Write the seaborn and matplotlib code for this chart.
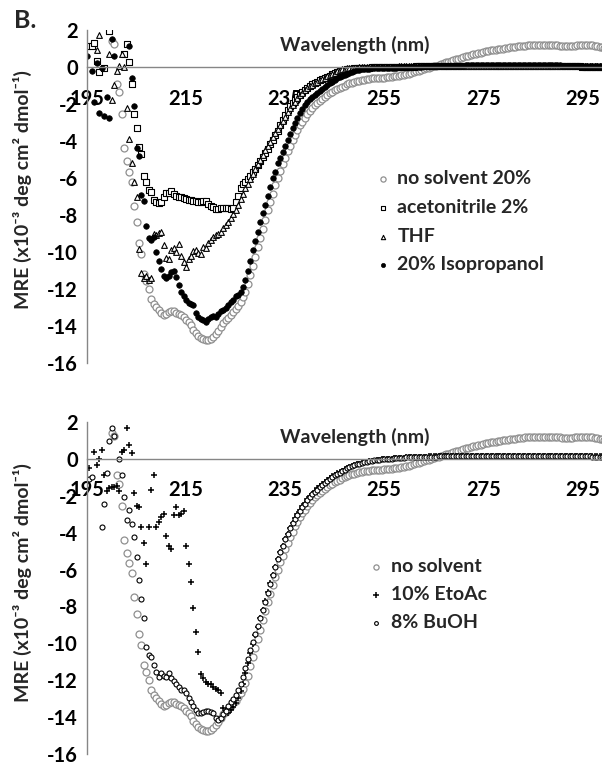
import numpy as np
import matplotlib
matplotlib.use("Agg")
import matplotlib.pyplot as plt
import seaborn as sns

n = np.nan
# wavelength grid (nm), 0.5 nm steps
wavelength = np.arange(1950, 3001, 5) / 10.0

no_solvent = [
    n, n, n, n, n, n, n, n, n, n,
    1.4, 1.25, -0.9, -1.35, -2.55, -4.4, -5.1, -5.65, -6.2, -7.5,
    -8.4, -9.5, -10.1, -11.2, -11.55, -12.0, -12.55, -12.8, -12.95, -13.15,
    -13.3, -13.4, -13.35, -13.25, -13.2, -13.2, -13.28, -13.35, -13.4, -13.5,
    -13.65, -13.8, -13.95, -14.2, -14.4, -14.55, -14.65, -14.72, -14.75, -14.75,
    -14.7, -14.6, -14.45, -14.25, -14.05, -13.85, -13.7, -13.55, -13.4, -13.25,
    -13.1, -12.9, -12.7, -12.45, -12.15, -11.75, -11.25, -10.75, -10.25, -9.75,
    -9.25, -8.75, -8.25, -7.75, -7.3, -6.85, -6.4, -6.0, -5.6, -5.25,
    -4.9, -4.55, -4.25, -3.95, -3.65, -3.4, -3.15, -2.95, -2.75, -2.55,
    -2.38, -2.22, -2.08, -1.95, -1.83, -1.72, -1.62, -1.52, -1.43, -1.35,
    -1.27, -1.2, -1.13, -1.06, -1.0, -0.94, -0.89, -0.84, -0.8, -0.76,
    -0.73, -0.7, -0.68, -0.66, -0.64, -0.62, -0.61, -0.6, -0.59, -0.58,
    -0.57, -0.56, -0.55, -0.53, -0.51, -0.49, -0.47, -0.45, -0.42, -0.39,
    -0.36, -0.32, -0.28, -0.24, -0.2, -0.16, -0.12, -0.08, -0.04, 0.0,
    0.04, 0.08, 0.12, 0.17, 0.21, 0.25, 0.29, 0.33, 0.37, 0.41,
    0.45, 0.49, 0.53, 0.57, 0.61, 0.64, 0.68, 0.71, 0.75, 0.78,
    0.81, 0.84, 0.87, 0.9, 0.92, 0.94, 0.96, 0.98, 1.0, 1.02,
    1.04, 1.06, 1.08, 1.1, 1.12, 1.13, 1.15, 1.16, 1.17, 1.18,
    1.19, 1.2, 1.2, 1.21, 1.21, 1.2, 1.2, 1.19, 1.19, 1.18,
    1.17, 1.16, 1.15, 1.14, 1.14, 1.14, 1.15, 1.16, 1.17, 1.18,
    1.19, 1.2, 1.2, 1.19, 1.17, 1.15, 1.12, 1.09, 1.06, 1.03,
    1.0,
]

acetonitrile = [
    1.13, n, 1.13, 1.31, 0.32, -0.25, n, -0.04, n, 1.97,
    n, n, n, n, n, 0.68, 1.24, 0.25, -0.9, -2.55,
    -3.3, -4.33, -4.71, -5.87, -6.19, -6.65, -6.74, -7.18, -7.28, -7.33,
    -7.28, -7.0, -6.8, -6.83, -6.7, -6.86, -6.95, -7.0, -7.05, -7.1,
    -7.14, -7.17, -7.19, -7.22, -7.24, -7.28, -7.28, -7.25, -7.23, -7.38,
    -7.5, -7.58, -7.7, -7.65, -7.6, -7.62, -7.64, -7.6, -7.7, -7.6,
    -7.3, -6.95, -6.55, -6.3, -6.2, -6.05, -5.9, -5.7, -5.5, -5.3,
    -5.07, -4.88, -4.65, -4.42, -4.18, -3.95, -3.7, -3.45, -3.15, -2.86,
    -2.6, -2.35, -2.12, -1.92, -1.76, -1.62, -1.49, -1.36, -1.24, -1.12,
    -1.02, -0.94, -0.86, -0.79, -0.72, -0.65, -0.58, -0.52, -0.46, -0.4,
    -0.34, -0.29, -0.24, -0.2, -0.16, -0.13, -0.11, -0.09, -0.07, -0.06,
    -0.05, -0.04, -0.04, -0.03, -0.03, -0.02, -0.02, -0.02, -0.01, -0.01,
    -0.01, 0.0, 0.0, 0.0, 0.01, 0.01, 0.01, 0.01, 0.02, 0.02,
    0.02, 0.02, 0.02, 0.03, 0.03, 0.03, 0.03, 0.03, 0.03, 0.03,
    0.03, 0.04, 0.04, 0.04, 0.04, 0.04, 0.04, 0.04, 0.04, 0.04,
    0.04, 0.05, 0.05, 0.05, 0.05, 0.05, 0.05, 0.05, 0.05, 0.05,
    0.05, 0.05, 0.05, 0.05, 0.05, 0.05, 0.05, 0.05, 0.05, 0.05,
    0.05, 0.05, 0.04, 0.04, 0.04, 0.04, 0.04, 0.04, 0.04, 0.04,
    0.04, 0.04, 0.04, 0.04, 0.04, 0.04, 0.03, 0.03, 0.03, 0.03,
    0.03, 0.03, 0.03, 0.03, 0.03, 0.03, 0.03, 0.03, 0.03, 0.03,
    0.02, 0.02, 0.02, 0.02, 0.02, 0.02, 0.02, 0.02, 0.02, 0.02,
    0.02,
]

thf = [
    n, n, n, n, 0.94, 1.75, n, n, n, 0.7,
    -1.76, -0.97, -0.22, 0.05, 0.7, 0.0, -2.2, -3.88, -5.17, -6.24,
    -7.03, -9.86, -11.15, -11.42, -11.3, -11.5, -11.4, -9.0, -9.1, -8.95,
    -8.9, -9.62, -10.3, -10.4, -9.9, -9.8, -10.0, -9.57, -10.2, -10.56,
    -10.8, -10.4, -10.2, -9.95, -9.9, -10.07, -10.1, -9.71, -9.8, -9.5,
    -9.35, -9.2, -9.1, -9.05, -8.9, -8.7, -8.55, -8.36, -8.15, -7.95,
    -7.75, -7.45, -7.15, -6.85, -6.55, -6.3, -6.05, -5.8, -5.5, -5.25,
    -5.0, -4.75, -4.5, -4.28, -4.05, -3.8, -3.58, -3.35, -3.12, -2.9,
    -2.68, -2.45, -2.23, -2.05, -1.87, -1.7, -1.53, -1.4, -1.27, -1.15,
    -1.05, -0.96, -0.88, -0.8, -0.72, -0.65, -0.58, -0.5, -0.43, -0.37,
    -0.31, -0.24, -0.17, -0.13, -0.1, -0.08, -0.06, -0.05, -0.04, -0.03,
    -0.02, -0.02, -0.01, -0.01, 0.0, 0.0, 0.0, 0.01, 0.01, 0.01,
    0.01, 0.02, 0.02, 0.02, 0.02, 0.02, 0.03, 0.03, 0.03, 0.03,
    0.03, 0.03, 0.04, 0.04, 0.04, 0.04, 0.04, 0.04, 0.05, 0.05,
    0.05, 0.05, 0.05, 0.05, 0.06, 0.06, 0.06, 0.06, 0.06, 0.06,
    0.06, 0.07, 0.07, 0.07, 0.07, 0.07, 0.07, 0.07, 0.07, 0.07,
    0.07, 0.07, 0.07, 0.07, 0.07, 0.07, 0.07, 0.07, 0.07, 0.07,
    0.07, 0.07, 0.06, 0.06, 0.06, 0.06, 0.06, 0.06, 0.06, 0.06,
    0.06, 0.06, 0.06, 0.06, 0.05, 0.05, 0.05, 0.05, 0.05, 0.05,
    0.05, 0.05, 0.05, 0.05, 0.05, 0.04, 0.04, 0.04, 0.04, 0.04,
    0.04, 0.04, 0.04, 0.04, 0.04, 0.04, 0.04, 0.03, 0.03, 0.03,
    0.03,
]

isopropanol = [
    0.6, n, -0.22, -1.88, 0.23, -2.5, -0.04, -2.63, -1.6, -2.74,
    1.5, 0.6, n, n, n, n, n, 1.15, -0.58, -2.09,
    -4.4, -4.8, -6.9, -7.25, -8.6, -9.26, -9.35, -9.2, -10.0, -10.5,
    -10.9, -11.3, -11.4, -11.3, -11.1, -11.0, -11.37, -11.8, -12.15, -12.4,
    -12.6, -12.77, -12.8, -12.86, -13.3, -13.5, -13.6, -13.68, -13.77, -13.6,
    -13.5, -13.46, -13.5, -13.35, -13.2, -13.14, -13.05, -12.85, -12.7, -12.6,
    -12.4, -12.3, -12.15, -11.9, -11.5, -11.05, -10.5, -9.9, -9.4, -8.9,
    -8.4, -7.9, -7.46, -6.95, -6.47, -6.0, -5.65, -5.2, -4.9, -4.6,
    -4.28, -3.95, -3.62, -3.32, -3.02, -2.75, -2.5, -2.27, -2.07, -1.9,
    -1.75, -1.62, -1.5, -1.38, -1.28, -1.18, -1.08, -0.98, -0.88, -0.79,
    -0.7, -0.62, -0.55, -0.48, -0.42, -0.36, -0.3, -0.25, -0.21, -0.18,
    -0.15, -0.13, -0.11, -0.1, -0.09, -0.08, -0.07, -0.07, -0.06, -0.06,
    -0.05, -0.05, -0.04, -0.04, -0.03, -0.03, -0.02, -0.02, -0.01, -0.01,
    0.0, 0.0, 0.01, 0.01, 0.02, 0.02, 0.03, 0.03, 0.03, 0.04,
    0.04, 0.04, 0.05, 0.05, 0.05, 0.06, 0.06, 0.06, 0.07, 0.07,
    0.07, 0.08, 0.08, 0.09, 0.09, 0.1, 0.1, 0.1, 0.11, 0.11,
    0.11, 0.12, 0.12, 0.12, 0.12, 0.13, 0.13, 0.13, 0.13, 0.12,
    0.12, 0.12, 0.12, 0.12, 0.12, 0.11, 0.11, 0.11, 0.11, 0.11,
    0.1, 0.1, 0.1, 0.1, 0.1, 0.1, 0.09, 0.09, 0.09, 0.09,
    0.09, 0.09, 0.08, 0.08, 0.08, 0.08, 0.08, 0.07, 0.07, 0.07,
    0.07, 0.07, 0.06, 0.06, 0.06, 0.06, 0.05, 0.05, 0.05, 0.05,
    0.05,
]

etoac = [
    -1.1, -0.47, n, 0.4, -0.35, 0.0, 0.49, -0.85, -1.75, -1.58,
    -1.55, -1.5, -1.46, -1.73, 0.36, 0.47, 1.67, 0.78, 0.34, -1.86,
    -2.54, -2.62, -3.71, -4.54, -5.72, -3.71, -1.67, -0.85, -3.68, -3.44,
    -3.17, -2.99, -4.2, -4.74, -4.88, -3.03, -2.63, -3.03, -2.99, -2.8,
    -4.7, -5.7, -6.68, -8.1, -9.38, -10.45, -11.65, -11.9, -12.1, -12.2,
    -12.2, -12.36, -12.45, -12.54, -12.68, -13.5, -13.66, -13.77, -13.62, -13.44,
    -13.23, -12.99, -12.6, -12.2, -11.6, -11.05, -10.5, -10.05, -9.55, -9.1,
    -8.65, -8.2, -7.7, -7.2, -6.75, -6.3, -5.85, -5.45, -5.05, -4.7,
    -4.35, -4.05, -3.75, -3.48, -3.22, -2.98, -2.77, -2.57, -2.38, -2.2,
    -2.03, -1.88, -1.74, -1.6, -1.48, -1.36, -1.25, -1.14, -1.04, -0.95,
    -0.86, -0.78, -0.7, -0.63, -0.56, -0.5, -0.44, -0.39, -0.34, -0.3,
    -0.26, -0.22, -0.19, -0.16, -0.13, -0.11, -0.09, -0.07, -0.05, -0.03,
    -0.02, 0.0, 0.01, 0.02, 0.03, 0.04, 0.05, 0.06, 0.07, 0.08,
    0.09, 0.1, 0.1, 0.11, 0.11, 0.12, 0.12, 0.12, 0.13, 0.13,
    0.13, 0.13, 0.14, 0.14, 0.14, 0.15, 0.15, 0.15, 0.15, 0.16,
    0.16, 0.16, 0.16, 0.16, 0.17, 0.17, 0.17, 0.17, 0.17, 0.17,
    0.17, 0.18, 0.18, 0.18, 0.18, 0.18, 0.18, 0.18, 0.18, 0.18,
    0.18, 0.18, 0.18, 0.18, 0.18, 0.17, 0.17, 0.17, 0.17, 0.17,
    0.17, 0.17, 0.17, 0.16, 0.16, 0.16, 0.16, 0.16, 0.16, 0.16,
    0.16, 0.16, 0.15, 0.15, 0.15, 0.15, 0.15, 0.15, 0.15, 0.15,
    0.15, 0.15, 0.15, 0.14, 0.14, 0.14, 0.14, 0.14, 0.14, 0.14,
    0.14,
]

buoh = [
    n, -1.1, -1.0, n, n, n, -3.7, -2.43, -0.74, 0.95,
    1.7, 1.26, n, 0.02, -0.85, -2.07, -3.3, -2.77, -3.53, -4.22,
    -5.33, -6.59, -7.58, -8.65, -10.2, -10.65, -10.75, -11.15, -11.55, -11.8,
    -11.6, -11.78, -11.82, -11.62, -11.9, -12.05, -12.18, -12.36, -12.54, -12.52,
    -12.68, -12.97, -13.2, -13.4, -13.62, -13.75, -13.75, -13.71, -13.66, -13.68,
    -13.71, -13.8, -14.07, -14.16, -14.05, -13.85, -13.65, -13.42, -13.2, -13.0,
    -12.78, -12.52, -12.2, -11.8, -11.35, -10.85, -10.35, -9.95, -9.5, -9.05,
    -8.6, -8.2, -7.75, -7.25, -6.8, -6.3, -5.85, -5.45, -5.05, -4.7,
    -4.35, -4.05, -3.75, -3.5, -3.25, -3.03, -2.82, -2.62, -2.43, -2.25,
    -2.08, -1.93, -1.79, -1.66, -1.54, -1.42, -1.3, -1.19, -1.09, -0.99,
    -0.9, -0.82, -0.74, -0.66, -0.59, -0.52, -0.46, -0.4, -0.35, -0.3,
    -0.26, -0.22, -0.18, -0.15, -0.12, -0.1, -0.08, -0.06, -0.04, -0.02,
    -0.01, 0.0, 0.01, 0.02, 0.03, 0.04, 0.05, 0.06, 0.07, 0.08,
    0.08, 0.09, 0.09, 0.1, 0.1, 0.11, 0.11, 0.11, 0.12, 0.12,
    0.12, 0.12, 0.13, 0.13, 0.13, 0.13, 0.14, 0.14, 0.14, 0.14,
    0.14, 0.15, 0.15, 0.15, 0.15, 0.15, 0.15, 0.15, 0.16, 0.16,
    0.16, 0.16, 0.16, 0.16, 0.16, 0.16, 0.16, 0.16, 0.16, 0.16,
    0.16, 0.16, 0.16, 0.15, 0.15, 0.15, 0.15, 0.15, 0.15, 0.15,
    0.15, 0.15, 0.15, 0.15, 0.14, 0.14, 0.14, 0.14, 0.14, 0.14,
    0.14, 0.14, 0.14, 0.13, 0.13, 0.13, 0.13, 0.13, 0.13, 0.13,
    0.13, 0.13, 0.13, 0.13, 0.12, 0.12, 0.12, 0.12, 0.12, 0.12,
    0.12,
]

x_ticks = [195, 215, 235, 255, 275, 295]
y_ticks = [2, 0, -2, -4, -6, -8, -10, -12, -14, -16]
top_labels = ["no solvent 20%", "acetonitrile 2%", "THF", "20% Isopropanol"]
bottom_labels = ["no solvent", "10% EtoAc", "8% BuOH"]

sns.set_style("white")
plt.rcParams["font.family"] = ["Lato", "DejaVu Sans"]
plt.rcParams["font.weight"] = "bold"
plt.rcParams["axes.unicode_minus"] = False

GRAY = "#8f8f8f"
AX_GRAY = "#868686"

fig = plt.figure(figsize=(6.02, 7.65), dpi=100)
W, H = 602.0, 765.0
ax1 = fig.add_axes([87 / W, (H - 363) / H, 515 / W, 333 / H])
ax2 = fig.add_axes([87 / W, (H - 754) / H, 515 / W, 332 / H])


def style_axis(ax):
    ax.set_xlim(195, 299)
    ax.set_ylim(-16, 2)
    ax.set_xticks(x_ticks)
    ax.set_yticks(y_ticks)
    ax.set_xticklabels([str(v) for v in x_ticks])
    ax.set_yticklabels([str(v) for v in y_ticks])
    ax.spines["top"].set_visible(False)
    ax.spines["right"].set_visible(False)
    ax.spines["bottom"].set_position(("data", 0))
    for s in ("left", "bottom"):
        ax.spines[s].set_color(AX_GRAY)
        ax.spines[s].set_linewidth(1.0)
    ax.tick_params(axis="both", direction="out", length=4.5, width=0.9,
                   color=AX_GRAY, labelsize=14.5, labelcolor="black")
    ax.tick_params(axis="x", pad=11)
    ax.tick_params(axis="y", pad=2)
    ax.set_xlabel("")
    ax.set_ylabel("")
    ax.grid(False)
    ax.text(0.52, 0.955, "Wavelength (nm)", transform=ax.transAxes,
            ha="center", va="center", fontsize=14, fontweight="bold")


# ---- top panel ----
sns.scatterplot(x=wavelength, y=no_solvent, ax=ax1, marker="o", s=25,
                facecolor="white", edgecolor=GRAY, linewidth=0.9,
                label=top_labels[0], zorder=1)
sns.scatterplot(x=wavelength, y=acetonitrile, ax=ax1, marker="s", s=14,
                facecolor="white", edgecolor="black", linewidth=0.8,
                label=top_labels[1], zorder=1)
sns.scatterplot(x=wavelength, y=thf, ax=ax1, marker="^", s=17,
                facecolor="white", edgecolor="black", linewidth=0.8,
                label=top_labels[2], zorder=1)
sns.scatterplot(x=wavelength, y=isopropanol, ax=ax1, marker="o", s=16,
                color="black", edgecolor="black", linewidth=0.5,
                label=top_labels[3], zorder=1)
style_axis(ax1)
ax1.legend(loc="center left", bbox_to_anchor=(0.563, 0.424), frameon=False,
           fontsize=14, handlelength=0.6, handletextpad=0.45, borderpad=0,
           borderaxespad=0, labelspacing=0.6, markerscale=0.75)

# ---- bottom panel ----
sns.scatterplot(x=wavelength, y=no_solvent, ax=ax2, marker="o", s=25,
                facecolor="white", edgecolor=GRAY, linewidth=0.9,
                label=bottom_labels[0], zorder=1)
sns.scatterplot(x=wavelength, y=etoac, ax=ax2, marker="+", s=24,
                color="black", linewidth=1.1,
                label=bottom_labels[1], zorder=1)
sns.scatterplot(x=wavelength, y=buoh, ax=ax2, marker="o", s=13,
                facecolor="white", edgecolor="black", linewidth=0.8,
                label=bottom_labels[2], zorder=1)
style_axis(ax2)
ax2.legend(loc="center left", bbox_to_anchor=(0.55, 0.48), frameon=False,
           fontsize=14, handlelength=0.6, handletextpad=0.45, borderpad=0,
           borderaxespad=0, labelspacing=0.55, markerscale=0.75)

ylab = "MRE (x10\u207b\u00b3 deg cm\u00b2 dmol\u207b\u00b9)"
fig.text(22 / W, 1 - 190 / H, ylab, rotation=90, ha="center", va="center",
         fontsize=14, fontweight="bold")
fig.text(22 / W, 1 - 583 / H, ylab, rotation=90, ha="center", va="center",
         fontsize=14, fontweight="bold")
fig.text(14 / W, 1 - 21 / H, "B.", ha="left", va="center", fontsize=18,
         fontweight="bold")

fig.savefig("out.png", dpi=100)
